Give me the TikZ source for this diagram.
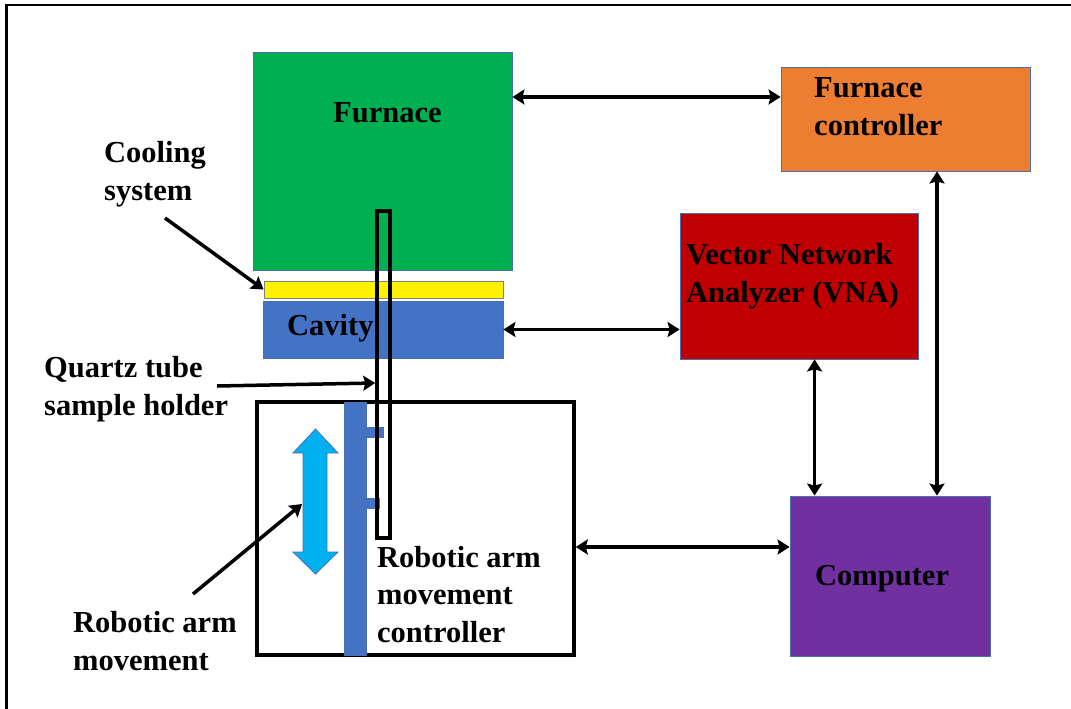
\documentclass[tikz,border=0pt]{standalone}
\usepackage{fontspec}
\setmainfont{Liberation Serif}
\usetikzlibrary{arrows.meta}
\definecolor{furnacegreen}{HTML}{00B050}
\definecolor{ctrlorange}{HTML}{ED7D31}
\definecolor{vnared}{HTML}{C00000}
\definecolor{pcpurple}{HTML}{7030A0}
\definecolor{cavityblue}{HTML}{4472C4}
\definecolor{edgeblue}{HTML}{4A6FB0}
\definecolor{moveblue}{HTML}{00B0F0}
\newcommand\diagfont{\fontsize{30.5}{37.5}\selectfont\bfseries}
\tikzset{
	part/.style={draw=edgeblue,line width=0.8pt,inner sep=0pt},
	txt/.style={font=\diagfont,inner sep=0pt,align=left,anchor=base west},
	link/.style={line width=3.5pt,{Stealth[length=12pt,width=15pt,inset=2pt]}-{Stealth[length=12pt,width=15pt,inset=2pt]}},
	pointer/.style={line width=3.5pt,-{Stealth[length=12pt,width=15pt,inset=2pt]}}
}
\begin{document}
\begin{tikzpicture}
				\useasboundingbox (0pt,0pt) rectangle (1071pt,-709pt);
				%frame
				\draw[line width=2.5pt] (6.5pt,-720pt) -- (6.5pt,-5pt) -- (1080pt,-5pt);
				%furnace, cooling plate and cavity
				\node[part,fill=furnacegreen,minimum width=259pt,minimum height=218pt] (furnace) at (382.5pt,-161pt) {};
				\node[txt] (furnacetxt) at (333pt,-122pt) {Furnace};
				\node[draw=gray,line width=0.8pt,inner sep=0pt,fill=yellow,minimum width=239pt,minimum height=17pt] (cooler) at (383.5pt,-289.5pt) {};
				\node[part,fill=cavityblue,minimum width=240pt,minimum height=57pt] (cavity) at (383pt,-329.5pt) {};
				\node[txt] (cavitytxt) at (287pt,-335pt) {Cavity};
				%robotic arm
				\node[draw,line width=3.5pt,inner sep=0pt,minimum width=317pt,minimum height=253pt] (armbox) at (415.5pt,-528.5pt) {};
				\node[part,fill=cavityblue,minimum width=22pt,minimum height=253pt] (arm) at (355pt,-528.5pt) {};
				\node[part,fill=cavityblue,minimum width=26pt,minimum height=10pt] (clampa) at (370pt,-432pt) {};
				\node[part,fill=cavityblue,minimum width=25pt,minimum height=10pt] (clampb) at (367pt,-503.5pt) {};
				\node[txt] (armtxt) at (377pt,-642pt) {Robotic arm\\movement\\controller};
				%quartz tube
				\node[draw,line width=3.5pt,inner sep=0pt,minimum width=13pt,minimum height=327pt] (tube) at (383.5pt,-374.5pt) {};
				%up/down movement
				\draw[draw=edgeblue,line width=0.8pt,fill=moveblue] (315.5pt,-429pt) -- (338pt,-453pt) -- (327pt,-453pt) -- (327pt,-552pt) -- (338pt,-552pt)
					-- (315.5pt,-574pt) -- (293pt,-552pt) -- (303pt,-552pt) -- (303pt,-453pt) -- (293pt,-453pt) -- cycle;
				\coordinate (movetip) at (302pt,-504pt);
				%instruments
				\node[part,fill=ctrlorange,minimum width=249pt,minimum height=104pt] (fctrl) at (905.5pt,-119pt) {};
				\node[txt] (fctrltxt) at (814pt,-135pt) {Furnace\\controller};
				\node[part,fill=vnared,minimum width=238pt,minimum height=146pt] (vna) at (799pt,-286pt) {};
				\node[txt] (vnatxt) at (686pt,-302pt) {Vector Network\\Analyzer (VNA)};
				\node[part,fill=pcpurple,minimum width=200pt,minimum height=160pt] (computer) at (890pt,-576pt) {};
				\node[txt] (computertxt) at (815pt,-585pt) {Computer};
				%links
				\draw[link] (furnace.east |- fctrl.170) -- (fctrl.170);
				\draw[link] (cavity.east) -- (vna.west |- cavity.east);
				\coordinate (pcvna) at ([xshift=25pt]computer.north west);
				\draw[link] (vna.south -| pcvna) -- (pcvna);
				\coordinate (pcfc) at ([xshift=31.5pt]fctrl.south);
				\draw[link] (pcfc) -- (pcfc |- computer.north);
				\coordinate (pcarm) at ([yshift=-18.5pt]armbox.east);
				\draw[link] (pcarm) -- (computer.west |- pcarm);
				%labels
				\node[txt] (coolingtxt) at (104pt,-200pt) {Cooling\\system};
				\coordinate (coolingfrom) at (165pt,-218pt);
				\draw[pointer] (coolingfrom) -- (cooler.west);
				\node[txt] (tubetxt) at (44pt,-415pt) {Quartz tube\\sample holder};
				\coordinate (tubefrom) at (217pt,-386pt);
				\draw[pointer] (tubefrom) -- (tube.west |- 0,-383pt);
				\node[txt] (movetxt) at (73pt,-670pt) {Robotic arm\\movement};
				\coordinate (movefrom) at (193pt,-594pt);
				\draw[pointer] (movefrom) -- (movetip);
			\end{tikzpicture}
\end{document}
